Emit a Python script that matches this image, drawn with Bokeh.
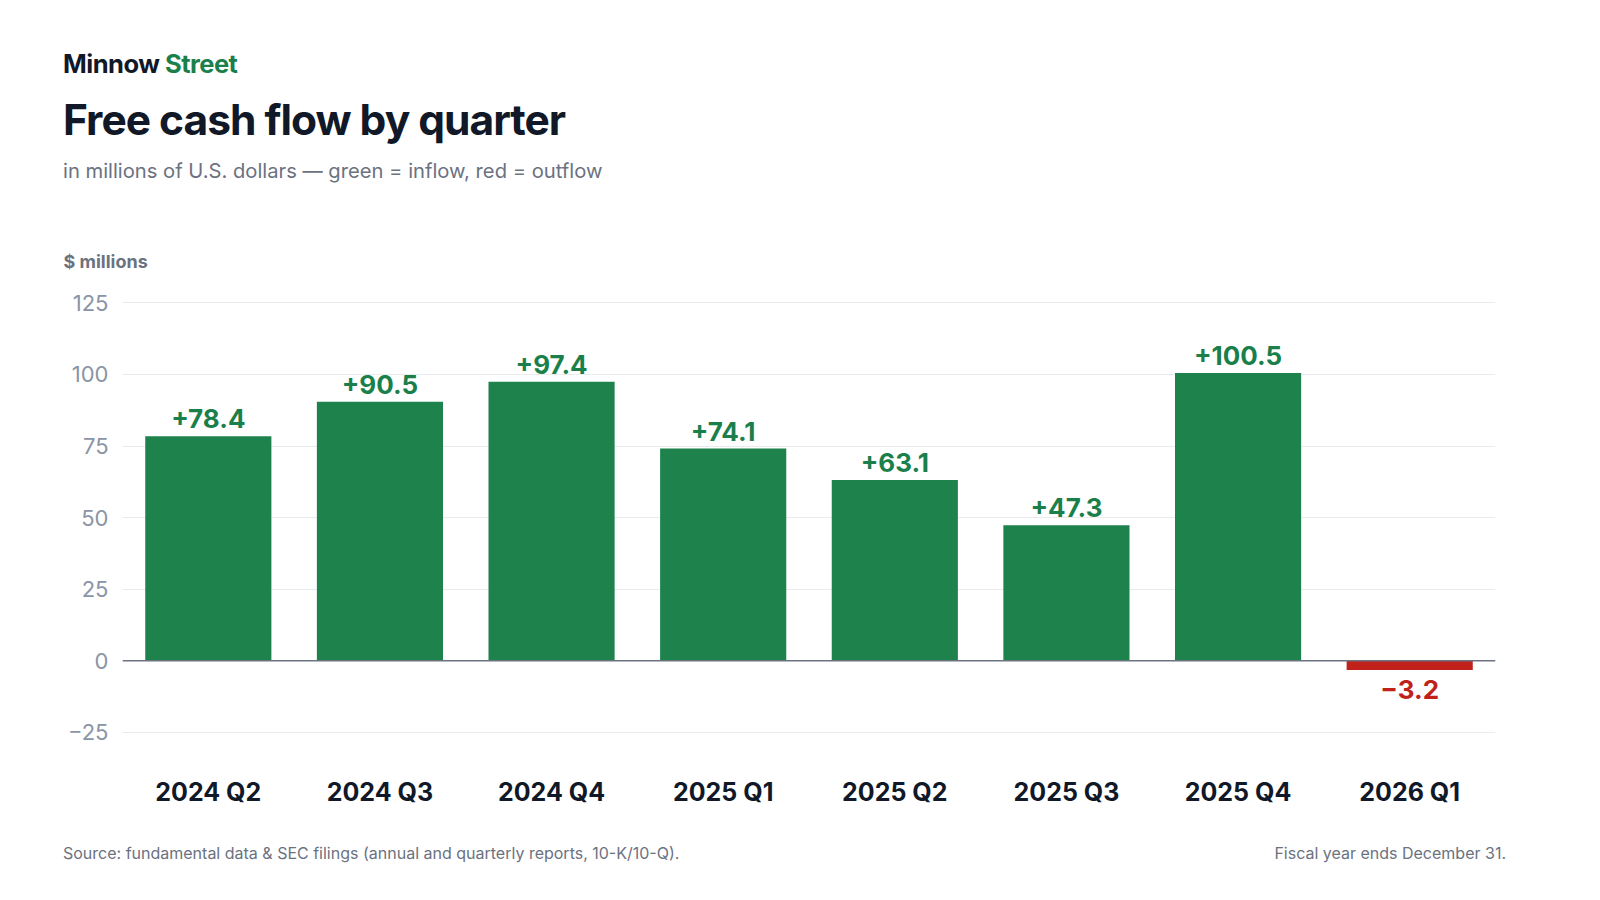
from bokeh.plotting import figure
from bokeh.models import ColumnDataSource, Div, Span, Title, FixedTicker
from bokeh.layouts import column
from bokeh.embed import file_html
from bokeh.resources import INLINE
from bokeh.core.properties import value

quarters = ["2024 Q2", "2024 Q3", "2024 Q4", "2025 Q1", "2025 Q2", "2025 Q3", "2025 Q4", "2026 Q1"]
fcf = [78.4, 90.5, 97.4, 74.1, 63.1, 47.3, 100.5, -3.2]
y_ticks = [-25, 0, 25, 50, 75, 100, 125]

GREEN, GREEN_T, RED = "#1e824c", "#1a7f4b", "#c0221b"
FONT = "Inter"
LM = 63

colors = [GREEN if v >= 0 else RED for v in fcf]
labels = [("+%.1f" % v) if v >= 0 else ("\u2212%.1f" % abs(v)) for v in fcf]
src = ColumnDataSource(dict(q=quarters, v=fcf, c=colors))
pos = ColumnDataSource(dict(q=[q for q, v in zip(quarters, fcf) if v >= 0],
                            y=[v for v in fcf if v >= 0],
                            lab=[l for l, v in zip(labels, fcf) if v >= 0]))
neg = ColumnDataSource(dict(q=[q for q, v in zip(quarters, fcf) if v < 0],
                            y=[v for v in fcf if v < 0],
                            lab=[l for l, v in zip(labels, fcf) if v < 0]))

header = Div(text=f"""
<div style="font-family:{FONT};">
<div style="font-size:25.5px;font-weight:700;color:#111827;letter-spacing:-0.5px;">Minnow <span style="color:#1a7f4b">Street</span></div>
<div style="font-size:42.5px;font-weight:700;color:#111827;margin-top:8px;letter-spacing:-1px;">Free cash flow by quarter</div>
<div style="font-size:20.2px;color:#6b7280;margin-top:6px;">in millions of U.S. dollars \u2014 green = inflow, red = outflow</div>
</div>""", width=1480, height=186, margin=(46, 0, 0, LM))

p = figure(x_range=quarters, y_range=(-32, 130), width=1470, height=610,
           output_backend="svg", toolbar_location=None,
           min_border_left=59, min_border_right=38, min_border_top=10, min_border_bottom=90)
p.add_layout(Title(text="$ millions", text_font=FONT, text_font_size="18px",
                   text_font_style="bold", text_color="#6b7280", offset=-59, standoff=33), "above")
p.outline_line_color = None
p.vbar(x="q", top="v", bottom=0, width=0.735, fill_color="c", line_color=None, source=src)
p.add_layout(Span(location=0, dimension="width", line_color="#6b7280", line_width=1.5))
p.text(x="q", y="y", text="lab", source=pos, text_align="center", text_baseline="bottom",
       y_offset=-8, text_font=value(FONT), text_font_size="26px", text_font_style="bold",
       text_color=GREEN_T)
p.text(x="q", y="y", text="lab", source=neg, text_align="center", text_baseline="top",
       y_offset=10, text_font=value(FONT), text_font_size="26px", text_font_style="bold",
       text_color=RED)

p.yaxis.ticker = FixedTicker(ticks=y_ticks)
p.yaxis.major_label_overrides = {t: (str(t) if t >= 0 else "\u2212" + str(abs(t))) for t in y_ticks}
p.yaxis.axis_line_color = None
p.yaxis.major_tick_line_color = None
p.yaxis.minor_tick_line_color = None
p.yaxis.major_label_text_font = FONT
p.yaxis.major_label_text_font_size = "22px"
p.yaxis.major_label_text_color = "#8a94a6"
p.yaxis.major_label_standoff = 8
p.xaxis.axis_line_color = None
p.xaxis.major_tick_line_color = None
p.xaxis.major_label_text_font = FONT
p.xaxis.major_label_text_font_size = "25px"
p.xaxis.major_label_text_font_style = "bold"
p.xaxis.major_label_text_color = "#111827"
p.xaxis.major_label_standoff = 18
p.xgrid.grid_line_color = None
p.ygrid.grid_line_color = "#e9ebee"
p.ygrid.grid_line_width = 1.2
p.margin = (0, 0, 0, LM)

footer = Div(text=f"""
<div style="font-family:{FONT};font-size:16px;color:#6b7280;display:flex;justify-content:space-between;width:1443px;">
<span>Source: fundamental data &amp; SEC filings (annual and quarterly reports, 10-K/10-Q).</span>
<span>Fiscal year ends December 31.</span></div>""", width=1480, height=30, margin=(0, 0, 0, LM))

layout = column(header, p, footer, spacing=0)
open("out.html", "w").write(file_html(layout, INLINE))
